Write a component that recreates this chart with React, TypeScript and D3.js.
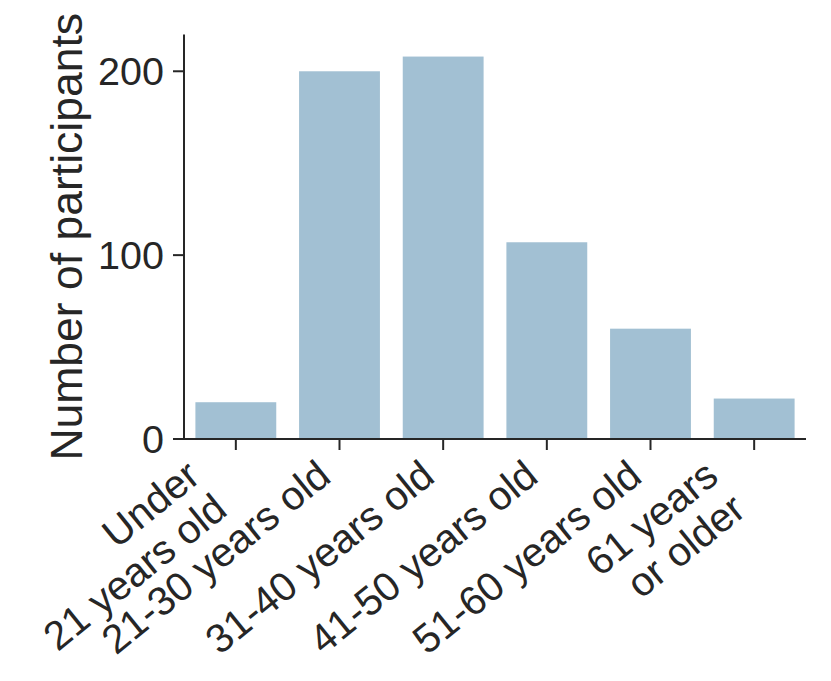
import React from "react";
import * as d3 from "d3";

const categories = [
  "Under\n21 years old",
  "21-30 years old",
  "31-40 years old",
  "41-50 years old",
  "51-60 years old",
  "61 years\nor older",
];
const counts = [20, 200, 208, 107, 60, 22];
const yTicks = [0, 100, 200];
const yLabel = "Number of participants";

export default function App() {
  const W = 831;
  const H = 681;
  const x = d3
    .scaleBand<string>()
    .domain(categories)
    .range([184, 806])
    .paddingInner(0.22)
    .paddingOuter(0.11);
  const y = d3.scaleLinear().domain([0, 220]).range([439, 34.5]);

  const ink = "#262626";
  const barColor = "#a2c0d3";
  const font = "'Liberation Sans', Arial, sans-serif";
  const tickFs = 39.5;
  const xTickFs = 40.5;
  const labelFs = 44.5;
  const tickLen = 11;
  const angle = 39;
  const lineGap = 43;
  const cosA = Math.cos((angle * Math.PI) / 180);

  const [y0, y1] = y.range();
  const [x0, x1] = x.range();

  return (
    <svg
      width={W}
      height={H}
      style={{ position: "absolute", left: 0, top: 0, background: "#fff" }}
      fontFamily={font}
    >
      {categories.map((c, i) => (
        <rect
          key={c}
          x={x(c)}
          y={y(counts[i])}
          width={x.bandwidth()}
          height={y(0) - y(counts[i])}
          fill={barColor}
        />
      ))}

      {/* spines */}
      <line x1={x0} x2={x0} y1={y1} y2={y0} stroke={ink} strokeWidth={2} />
      <line x1={x0 - 1} x2={x1} y1={y0} y2={y0} stroke={ink} strokeWidth={2} />

      {/* y ticks */}
      {yTicks.map((t) => (
        <g key={t}>
          <line x1={x0 - tickLen} x2={x0} y1={y(t)} y2={y(t)} stroke={ink} strokeWidth={2} />
          <text
            x={x0 - tickLen - 9}
            y={y(t)}
            dy="0.36em"
            textAnchor="end"
            fontSize={tickFs}
            fill={ink}
          >
            {t}
          </text>
        </g>
      ))}

      {/* x ticks and labels */}
      {categories.map((c) => {
        const cx = (x(c) as number) + x.bandwidth() / 2;
        const lines = c.split("\n");
        const n = lines.length;
        const ax = cx - 6.5;
        const ay = y0 + 41 + (n - 1) * lineGap * cosA;
        return (
          <g key={c}>
            <line x1={cx} x2={cx} y1={y0} y2={y0 + tickLen} stroke={ink} strokeWidth={2} />
            <g transform={`translate(${ax},${ay}) rotate(${-angle})`}>
              {lines.map((l, j) => (
                <text
                  key={j}
                  x={0}
                  y={-(n - 1 - j) * lineGap}
                  textAnchor="end"
                  fontSize={xTickFs}
                  fill={ink}
                >
                  {l}
                </text>
              ))}
            </g>
          </g>
        );
      })}

      {/* y label */}
      <text
        transform={`translate(82,${(y0 + y1) / 2}) rotate(-90)`}
        textAnchor="middle"
        fontSize={labelFs}
        fill={ink}
      >
        {yLabel}
      </text>
    </svg>
  );
}
